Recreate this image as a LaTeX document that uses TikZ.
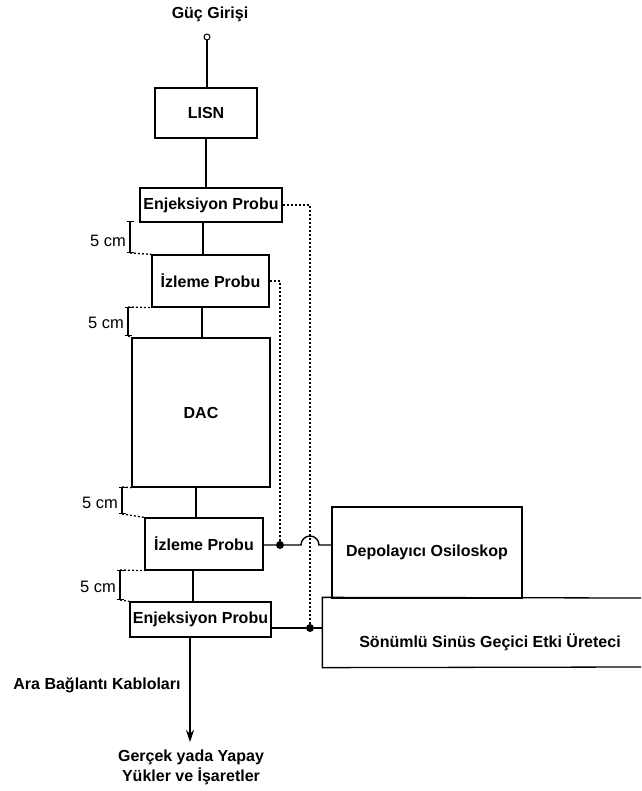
\documentclass[tikz,border=0pt]{standalone}
\usepackage{fontspec}
\setmainfont{Liberation Sans}
\usetikzlibrary{arrows.meta,positioning}

\begin{document}
\begin{tikzpicture}[x=1pt,y=1pt,font=\fontsize{16}{20}\selectfont\bfseries]
  \tikzset{blk/.style 2 args={draw,line width=1.3pt,minimum width=#1,minimum height=#2,inner sep=0pt,align=center}}
  \tikzset{wire/.style={line width=1.4pt}}
  \tikzset{probe/.style={line width=1.8pt,dash pattern=on 2pt off 2pt}}
  \tikzset{dimln/.style={line width=1.3pt,{Bar[width=7pt,line width=1.3pt]}-{Bar[width=7pt,line width=1.3pt]}}}
  \tikzset{dimext/.style={line width=1.3pt,dash pattern=on 2pt off 2pt}}
  \tikzset{dimlbl/.style={anchor=east,inner sep=1pt,font=\fontsize{16.5}{18}\selectfont}}
  \tikzset{jdot/.style={circle,fill,inner sep=0pt,minimum size=8pt}}
  \useasboundingbox[fill=white] (0,0) rectangle (641,-791);
  % supply side
  \node (inp) at (210,-14) {Güç Girişi};
  \node[circle,draw,line width=1pt,inner sep=0pt,minimum size=6pt] (term) at (207,-37) {};
  \node[blk={102pt}{50pt}] (lisn) at (206,-113) {LISN};
  \node[blk={142pt}{34pt}] (enj1) at (211,-205) {Enjeksiyon Probu};
  \node[blk={117pt}{52pt}] (izl1) at (210.5,-281) {İzleme Probu};
  \node[blk={138pt}{149pt}] (dac) at (201,-412.5) {DAC};
  \node[blk={118pt}{52pt}] (izl2) at (204,-544) {İzleme Probu};
  \node[blk={141pt}{35pt}] (enj2) at (200.5,-619.5) {Enjeksiyon Probu};
  % instruments
  \node[blk={190pt}{91pt}] (depo) at (427,-552.5) {Depolayıcı Osiloskop};
  \node[blk={337pt}{69pt},draw=none] (son) at (491.5,-632.5) {};
  \draw[line width=1.3pt] (641,-598) -- (son.north west) -- (son.south west) -- (641,-667);
  \node (sonlbl) at (490,-642) {Sönümlü Sinüs Geçici Etki Üreteci};
  % load side
  \node (ara) at (97,-685) {Ara Bağlantı Kabloları};
  \node[align=center] (ger) at (191,-767) {Gerçek yada Yapay\\Yükler ve İşaretler};
  \coordinate (tip) at (190,-742);
  % main line
  \draw[wire] (term) -- (term |- lisn.north);
  \draw[wire] (lisn.south) -- (lisn.south |- enj1.north);
  \draw[wire] (enj1.south -| 203,0) -- (izl1.north -| 203,0);
  \draw[wire] (izl1.south -| 202,0) -- (dac.north -| 202,0);
  \draw[wire] (dac.south -| 196,0) -- (izl2.north -| 196,0);
  \draw[wire] (izl2.south -| 193,0) -- (enj2.north -| 193,0);
  \draw[wire,-{Stealth[length=12pt,width=8pt]}] (enj2.south -| 190,0) -- (tip);
  % probe leads
  \node[jdot] (d1) at (280,-545) {};
  \node[jdot] (d2) at (310,-628) {};
  \draw[probe] (enj1.east) -| (d2);
  \draw[probe] (izl1.east) -| (d1);
  \draw[wire] (izl2.east |- d1) -- (d1) -- (301,-545) arc (180:0:9) -- (depo.west |- d1);
  \draw[wire] (enj2.east |- d2) -- (d2) -- (son.west |- d2);
  % 5 cm spacings
  \draw[dimln] (130,-221) -- (130,-253);
  \draw[dimext] (130,-253) -- (izl1.north west);
  \node[dimlbl] (s1) at (127,-241) {5 cm};
  \draw[dimln] (128,-307) -- (128,-336);
  \draw[dimext] (128,-307) -- (izl1.south west);
  \draw[dimext] (128,-336) -- (dac.north west);
  \node[dimlbl] (s2) at (125,-323) {5 cm};
  \draw[dimln] (122,-487) -- (122,-514);
  \draw[dimext] (122,-487) -- (dac.south west);
  \draw[dimext] (122,-514) -- (izl2.north west);
  \node[dimlbl] (s3) at (119,-503) {5 cm};
  \draw[dimln] (120,-570) -- (120,-600);
  \draw[dimext] (120,-570) -- (izl2.south west);
  \draw[dimext] (120,-600) -- (enj2.north west);
  \node[dimlbl] (s4) at (117,-587) {5 cm};
\end{tikzpicture}
\end{document}
